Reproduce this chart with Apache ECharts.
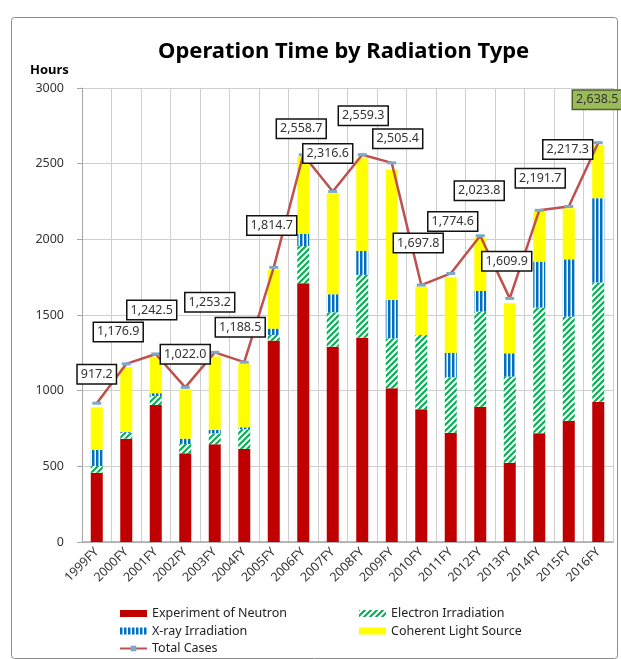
<!DOCTYPE html>
<html>
<head>
<meta charset="utf-8">
<script src="https://cdn.jsdelivr.net/npm/echarts@6/dist/echarts.min.js"></script>
<style>
  html, body { margin: 0; padding: 0; background: #fff; }
  #op-time { width: 621px; height: 659px; }
</style>
</head>
<body>
<div id="op-time"></div>
<script>
// operation hours per fiscal year, stacked by radiation type
var years = ['1999FY','2000FY','2001FY','2002FY','2003FY','2004FY','2005FY','2006FY','2007FY',
             '2008FY','2009FY','2010FY','2011FY','2012FY','2013FY','2014FY','2015FY','2016FY'];
var neutron  = [458, 683, 905, 586, 646, 615, 1331, 1710, 1291, 1350, 1016, 877, 722, 894, 524, 718, 802, 927];
var electron = [44, 39, 60, 62, 72, 130, 37, 246, 227, 415, 330, 491, 366, 628, 569, 831, 687, 787];
var xray     = [106, 5, 18, 35, 22, 13, 42, 80, 119, 158, 254, 0, 163, 137, 154, 304, 379, 558];
var coherent = [282, 428, 242, 326, 485, 423, 388, 511, 668, 613, 859, 319, 498, 352, 331, 330, 337, 352];
var totalCases = [917.2, 1176.9, 1242.5, 1022.0, 1253.2, 1188.5, 1814.7, 2558.7, 2316.6, 2559.3,
                  2505.4, 1697.8, 1774.6, 2023.8, 1609.9, 2191.7, 2217.3, 2638.5];
var yTicks = [0, 500, 1000, 1500, 2000, 2500, 3000];

// where each total label box sits relative to its point (px)
var labelShift = [[0,-29],[-8,-32],[-4,-44],[0,-33],[-5,-50],[-4,-35],[-2,-42],[-2,-26],[-5,-38],
                  [1,-39],[6,-24],[-3,-42],[2,-52],[-1,-45],[-3,-37],[1,-32],[-1,-57],[-1,-43]];

function hatchGreen() {
  var c = document.createElement('canvas');
  c.width = 6; c.height = 6;
  var g = c.getContext('2d');
  g.fillStyle = '#fff'; g.fillRect(0, 0, 6, 6);
  g.strokeStyle = '#00b050'; g.lineWidth = 2;
  g.beginPath();
  g.moveTo(-1, 7); g.lineTo(7, -1);
  g.moveTo(-1, 1); g.lineTo(1, -1);
  g.moveTo(5, 7); g.lineTo(7, 5);
  g.stroke();
  return c;
}
function stripeBlue() {
  var c = document.createElement('canvas');
  c.width = 4; c.height = 4;
  var g = c.getContext('2d');
  g.fillStyle = '#fff'; g.fillRect(0, 0, 4, 4);
  g.fillStyle = '#0070c0'; g.fillRect(0, 0, 2.5, 4);
  return c;
}

var fmt = function (v) {
  return v.toLocaleString('en-US', {minimumFractionDigits: 1, maximumFractionDigits: 1});
};

var totalData = totalCases.map(function (v, i) {
  var item = {value: v, label: {offset: labelShift[i]}};
  if (i === totalCases.length - 1) {
    item.label.backgroundColor = '#9bbb59';
    item.label.borderColor = '#4f6228';
  }
  return item;
});

var chart = echarts.init(document.getElementById('op-time'));

var option = {
  backgroundColor: '#fff',
  animation: false,
  textStyle: { fontFamily: 'Noto Sans' },
  title: {
    text: 'Operation Time by Radiation Type',
    left: 153, top: 36,
    textStyle: { fontFamily: 'Noto Sans', fontWeight: 'bold', fontSize: 22, color: '#000' }
  },
  graphic: [
    { type: 'rect', left: 9, top: 15, z: -1,
      shape: { width: 606, height: 641, r: 3 },
      style: { fill: 'none', stroke: '#8c8c8c', lineWidth: 1 } },
    { type: 'text', left: 30, top: 64,
      style: { text: 'Hours', font: 'bold 13px "Noto Sans"', fill: '#000' } }
  ],
  legend: [
    { orient: 'vertical', left: 119, top: 607, padding: 0, itemWidth: 27, itemHeight: 7, itemGap: 4.5,
      data: [{ name: 'Experiment of Neutron', icon: 'rect' }, { name: 'X-ray Irradiation', icon: 'rect' }, 'Total Cases'],
      textStyle: { fontSize: 12.5, color: '#222' } },
    { orient: 'vertical', left: 359, top: 607, padding: 0, itemWidth: 27, itemHeight: 7, itemGap: 4.5,
      data: [{ name: 'Electron Irradiation', icon: 'rect' }, { name: 'Coherent Light Source', icon: 'rect' }],
      textStyle: { fontSize: 12.5, color: '#222' } }
  ],
  grid: { left: 82, right: 8, top: 88, bottom: 117 },
  xAxis: {
    type: 'category',
    data: years,
    axisLine: { lineStyle: { color: '#a6a6a6', width: 1.5 } },
    axisTick: { show: false },
    axisLabel: { rotate: 45, fontSize: 12.5, color: '#333', margin: 8, interval: 0 },
    splitLine: { show: true, interval: 0, lineStyle: { color: '#cfcfcf' } }
  },
  yAxis: {
    type: 'value',
    min: yTicks[0], max: yTicks[yTicks.length - 1], interval: 500,
    axisLine: { show: true, lineStyle: { color: '#a6a6a6' } },
    axisTick: { show: true, length: 5, lineStyle: { color: '#a6a6a6' } },
    axisLabel: { fontSize: 12.5, color: '#333', margin: 18, formatter: function (v) { return String(v); } },
    splitLine: { lineStyle: { color: '#cfcfcf' } }
  },
  series: [
    { name: 'Experiment of Neutron', type: 'bar', stack: 'hours', barWidth: 12,
      itemStyle: { color: '#c00000' }, data: neutron },
    { name: 'Electron Irradiation', type: 'bar', stack: 'hours', barWidth: 12,
      itemStyle: { color: { image: hatchGreen(), repeat: 'repeat' } }, data: electron },
    { name: 'X-ray Irradiation', type: 'bar', stack: 'hours', barWidth: 12,
      itemStyle: { color: { image: stripeBlue(), repeat: 'repeat' } }, data: xray },
    { name: 'Coherent Light Source', type: 'bar', stack: 'hours', barWidth: 12,
      itemStyle: { color: '#ffff00' }, data: coherent },
    { name: 'Total Cases', type: 'line', z: 5,
      symbol: 'rect', symbolSize: [9, 3],
      lineStyle: { color: '#c0504d', width: 2.5 },
      itemStyle: { color: '#7fa7c7' },
      label: {
        show: true, position: 'inside',
        formatter: function (p) { return fmt(p.value); },
        fontSize: 12.5, color: '#333',
        backgroundColor: '#fff', borderColor: '#111', borderWidth: 1.5,
        padding: [3, 3, 2, 3]
      },
      data: totalData }
  ]
};

chart.setOption(option);
</script>
</body>
</html>
